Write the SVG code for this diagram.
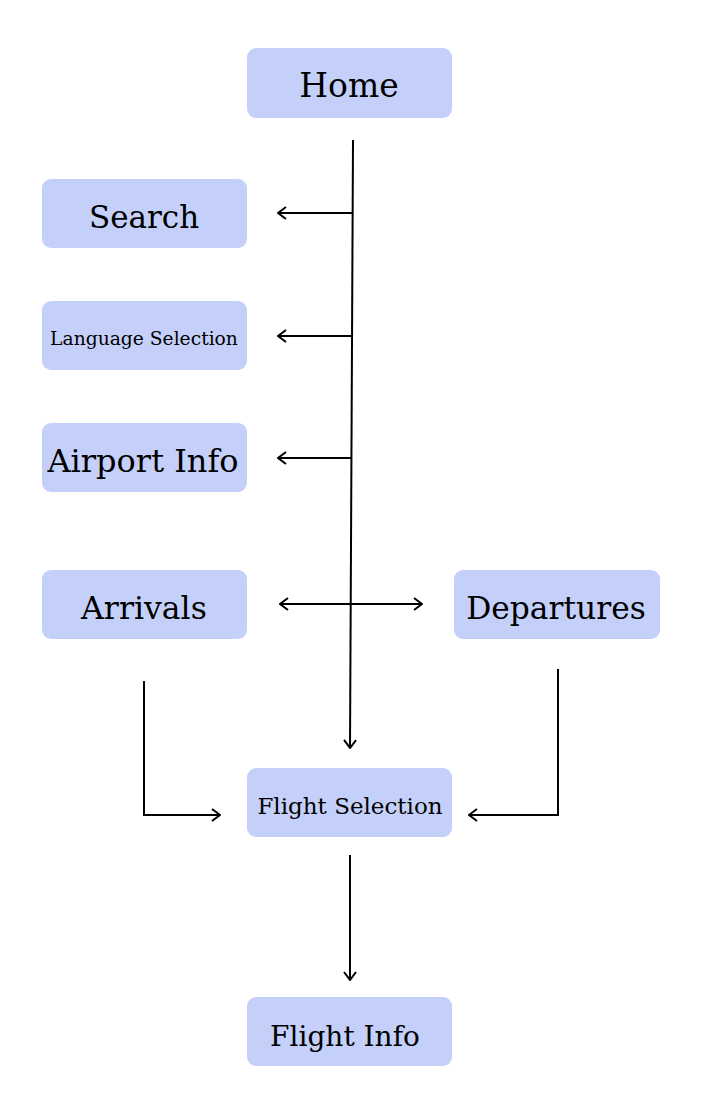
<svg xmlns="http://www.w3.org/2000/svg" width="702" height="1115" viewBox="0 0 702 1115">
<style>
.box{fill:#c5d0fa;}
.t{font-family:"DejaVu Serif","Liberation Serif",serif;fill:#000;text-anchor:middle;}
.c{stroke:#000;stroke-width:2;fill:none;}
</style>
<defs>
<marker id="ah" viewBox="0 0 10 14" refX="9" refY="7" markerWidth="10" markerHeight="14" markerUnits="userSpaceOnUse" orient="auto-start-reverse">
<path d="M1,1 L9,7 L1,13" fill="none" stroke="#000" stroke-width="2"/>
</marker>
</defs>
<rect width="702" height="1115" fill="#fff"/>
<g id="home"><rect class="box" x="247" y="48" width="205" height="70" rx="9"/><text class="t" x="349" y="97" font-size="33">Home</text></g>
<g id="search"><rect class="box" x="42" y="179" width="205" height="69" rx="9"/><text class="t" x="144" y="228" font-size="31">Search</text></g>
<g id="language"><rect class="box" x="42" y="301" width="205" height="69" rx="9"/><text class="t" x="144" y="345" font-size="18.7">Language Selection</text></g>
<g id="airport"><rect class="box" x="42" y="423" width="205" height="69" rx="9"/><text class="t" x="143" y="472" font-size="32">Airport Info</text></g>
<g id="arrivals"><rect class="box" x="42" y="570" width="205" height="69" rx="9"/><text class="t" x="144" y="619" font-size="31.5">Arrivals</text></g>
<g id="departures"><rect class="box" x="454" y="570" width="206" height="69" rx="9"/><text class="t" x="556" y="619" font-size="31.3">Departures</text></g>
<g id="flightsel"><rect class="box" x="247" y="768" width="205" height="69" rx="9"/><text class="t" x="350" y="814" font-size="23">Flight Selection</text></g>
<g id="flightinfo"><rect class="box" x="247" y="997" width="205" height="69" rx="9"/><text class="t" x="345" y="1046" font-size="28">Flight Info</text></g>
<g id="connectors">
<path class="c" d="M353,140 L350,748" marker-end="url(#ah)"/>
<path class="c" d="M352,213 L278,213" marker-end="url(#ah)"/>
<path class="c" d="M352,336 L278,336" marker-end="url(#ah)"/>
<path class="c" d="M351,458 L278,458" marker-end="url(#ah)"/>
<path class="c" d="M280,604 L422,604" marker-start="url(#ah)" marker-end="url(#ah)"/>
<path class="c" d="M144,681 L144,815 L220,815" marker-end="url(#ah)"/>
<path class="c" d="M558,669 L558,815 L469,815" marker-end="url(#ah)"/>
<path class="c" d="M350,855 L350,980" marker-end="url(#ah)"/>
</g>
</svg>
